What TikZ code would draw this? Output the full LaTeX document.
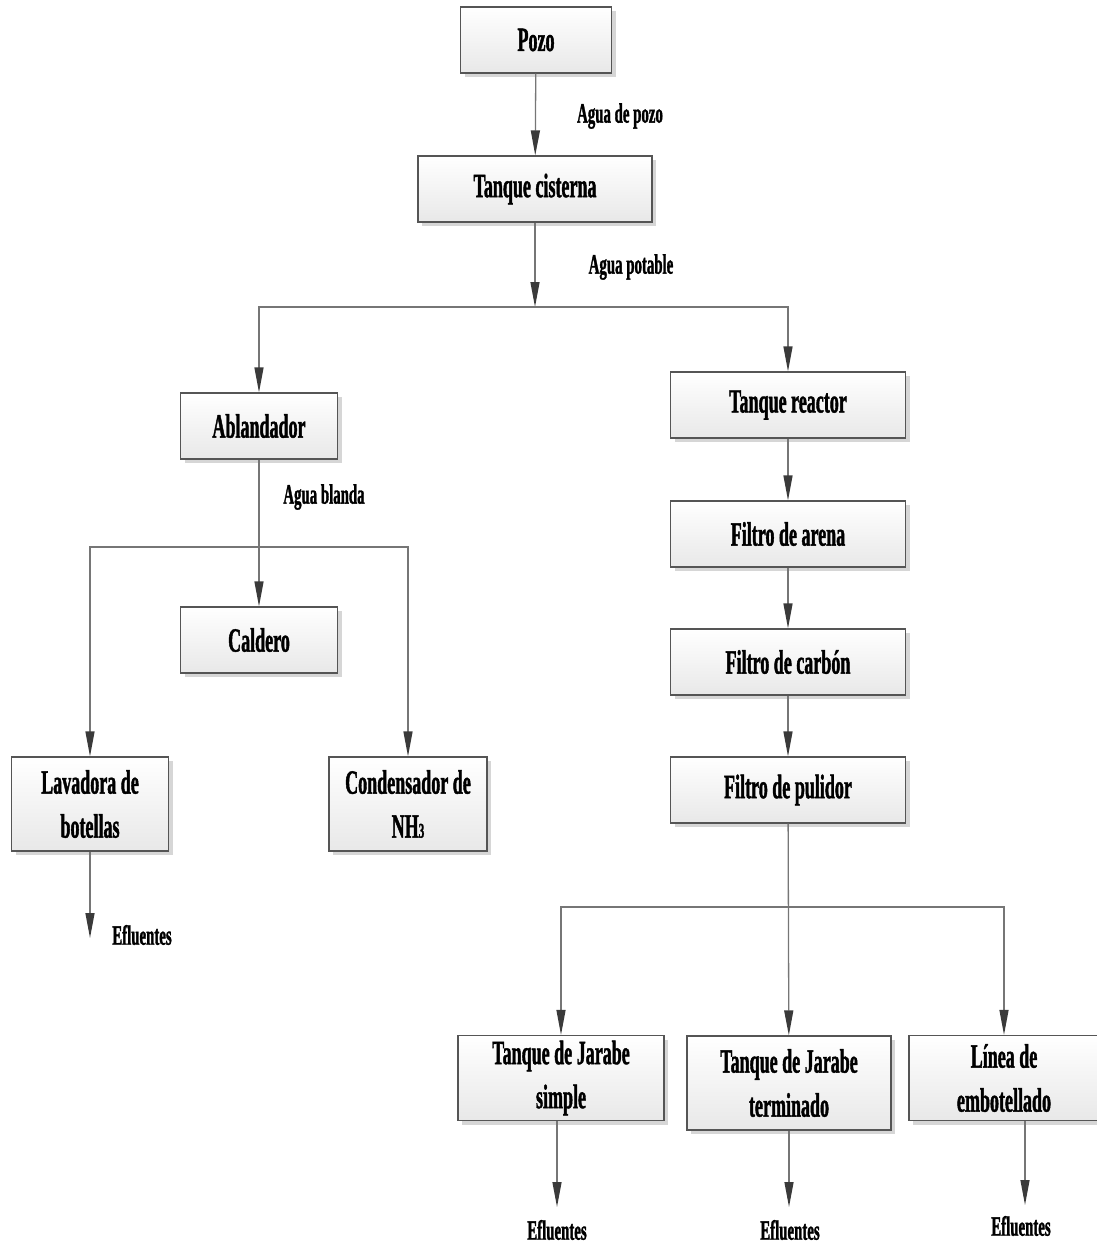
\documentclass[tikz,border=0pt]{standalone}
\usepackage{fontspec}
\setmainfont{Liberation Serif}[FakeStretch=0.53, BoldFeatures={FakeBold=1.2}]
\usepackage{tikz}
\usetikzlibrary{arrows.meta}
\usetikzlibrary{shadows}

\definecolor{linegray}{RGB}{118,118,118}
\definecolor{tipgray}{RGB}{58,58,58}
\definecolor{boxedge}{RGB}{85,85,85}

\tikzset{
	unitbox/.style={draw=boxedge, line width=1.2pt, rectangle, top color=white, bottom color=black!9,
		drop shadow={shadow xshift=4pt, shadow yshift=-4pt, fill=black!16, opacity=1},
		align=center, inner sep=2pt, font=\bfseries\fontsize{34}{44}\selectfont},
	flowline/.style={draw=linegray, line width=1.3pt},
	flowarrow/.style={flowline, -{Triangle[length=25pt,width=9pt,fill=tipgray,color=tipgray]}},
	streamlabel/.style={inner sep=0pt, font=\bfseries\fontsize{28}{32}\selectfont},
}

\begin{document}
\begin{tikzpicture}[x=1pt, y=-1pt]
	\useasboundingbox (0,0) rectangle (1096,1245);
	% equipos
	\node[unitbox, minimum width=151pt, minimum height=66pt] (pozo) at (536,40) {Pozo};
	\node[unitbox, minimum width=234pt, minimum height=66pt] (cisterna) at (535,189) {Tanque cisterna};
	\node[unitbox, minimum width=157pt, minimum height=66pt] (ablandador) at (259,426) {Ablandador};
	\node[unitbox, minimum width=157pt, minimum height=66pt] (caldero) at (259,640) {Caldero};
	\node[unitbox, minimum width=157pt, minimum height=94pt] (lavadora) at (90,804) {Lavadora de\\botellas};
	\node[unitbox, minimum width=158pt, minimum height=94pt] (condensador) at (408,804) {Condensador de\\NH{\fontsize{21}{21}\selectfont 3}};
	\node[unitbox, minimum width=235pt, minimum height=66pt] (reactor) at (788,405) {Tanque reactor};
	\node[unitbox, minimum width=235pt, minimum height=66pt] (arena) at (788,534) {Filtro de arena};
	\node[unitbox, minimum width=235pt, minimum height=66pt] (carbon) at (788,662) {Filtro de carbón};
	\node[unitbox, minimum width=235pt, minimum height=66pt] (pulidor) at (788,790) {Filtro de pulidor};
	\node[unitbox, minimum width=206pt, minimum height=85pt] (simple) at (561,1078) {Tanque de Jarabe\\simple};
	\node[unitbox, minimum width=204pt, minimum height=94pt] (terminado) at (789,1083) {Tanque de Jarabe\\terminado};
	\node[unitbox, minimum width=190pt, minimum height=85pt] (linea) at (1004,1078) {Línea de\\embotellado};

	% puntos de reparto
	\coordinate (split1) at (535,307);
	\coordinate (split2) at (259,547);
	\coordinate (split3) at (789,907);
	\coordinate (efl1) at (90,938);
	\coordinate (efl2) at (557,1207);
	\coordinate (efl3) at (789,1207);
	\coordinate (efl4) at (1025,1205);

	% corrientes
	\draw[flowarrow] (pozo) -- (cisterna);
	\draw[flowarrow] (cisterna) -- (split1);
	\draw[flowarrow] (split1) -| (ablandador.north);
	\draw[flowarrow] (split1) -| (reactor.north);
	\draw[flowarrow] (ablandador) -- (caldero);
	\draw[flowarrow] (split2) -| (lavadora.north);
	\draw[flowarrow] (split2) -| (condensador.north);
	\draw[flowarrow] (reactor) -- (arena);
	\draw[flowarrow] (arena) -- (carbon);
	\draw[flowarrow] (carbon) -- (pulidor);
	\draw[flowarrow] (pulidor) -- (terminado);
	\draw[flowarrow] (split3) -| (simple.north);
	\draw[flowarrow] (split3) -| (linea.north);
	\draw[flowarrow] (lavadora) -- (efl1);
	\draw[flowarrow] (simple.south -| efl2) -- (efl2);
	\draw[flowarrow] (terminado) -- (efl3);
	\draw[flowarrow] (linea.south -| efl4) -- (efl4);

	% etiquetas
	\node[streamlabel] (lbl1) at (620,116) {Agua de pozo};
	\node[streamlabel] (lbl2) at (631,267) {Agua potable};
	\node[streamlabel] (lbl3) at (324,497) {Agua blanda};
	\node[streamlabel] (lbl4) at (142,935) {Efluentes};
	\node[streamlabel] (lbl5) at (557,1230) {Efluentes};
	\node[streamlabel] (lbl6) at (790,1230) {Efluentes};
	\node[streamlabel] (lbl7) at (1021,1226) {Efluentes};
\end{tikzpicture}
\end{document}
